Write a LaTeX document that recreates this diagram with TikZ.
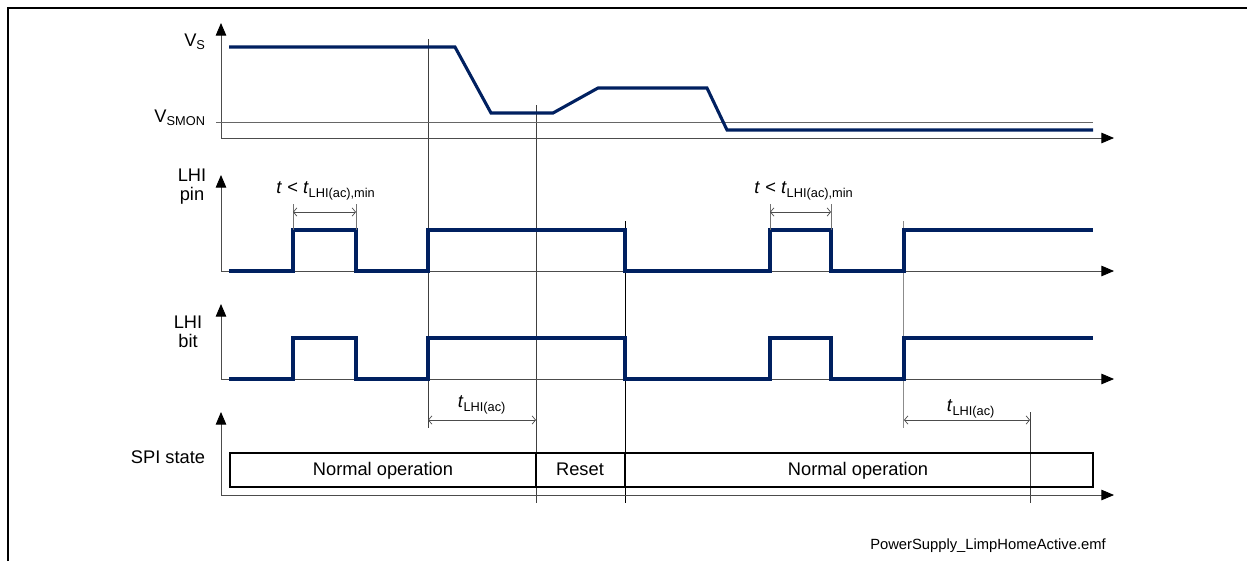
\documentclass[tikz,border=0pt]{standalone}
\usepackage{fontspec}
\setmainfont{Liberation Sans}
\usetikzlibrary{arrows.meta}
\definecolor{sigblue}{RGB}{0,32,96}
\tikzset{
  axis/.style={draw=black!70, line width=0.6pt, {Triangle[length=9pt,width=7.5pt,black]}-{Triangle[length=9pt,width=7.5pt,black]}},
  signal/.style={draw=sigblue, line width=2.2pt},
  guide/.style={draw=black!75, line width=0.5pt},
  dimline/.style={draw=black!70, line width=0.5pt, {Straight Barb[length=2.5pt,width=6pt]}-{Straight Barb[length=2.5pt,width=6pt]}},
  lbl/.style={font=\fontsize{13}{13.5}\selectfont, inner sep=0pt},
  small/.style={font=\fontsize{10.5}{12}\selectfont, inner sep=0pt},
}
\begin{document}
\begin{tikzpicture}[x=0.025cm, y=-0.025cm]
\useasboundingbox (0,0) rectangle (1247,561);
% frame
\draw[line width=1.4pt] (8,561) -- (8,8) -- (1247,8);

% guides
\draw[guide] (428,39) -- (428,428);
\draw[guide] (536,105) -- (536,503);
\draw[guide, draw=black] (625,221) -- (625,503);
\draw[guide, draw=black!45] (903,221) -- (903,428);
\draw[guide] (1030,412) -- (1030,503);

% Vs
\draw[axis] (221,23) -- (221,138) -- (1114,138);
\draw[draw=black!60, line width=0.6pt] (216,122) -- (1093,122);
\draw[signal] (229,47) -- (455,47) -- (491,113) -- (553,113) -- (598,88) -- (707,88) -- (727,130) -- (1093,130);
\node[lbl] (vs) at (195,42) {V\textsubscript{S}};
\node[lbl, anchor=east] (vsmon) at (206,118) {V\textsubscript{SMON}};

% LHI pin
\draw[axis] (221,175) -- (221,271) -- (1114,271);
\draw[signal] (229,271) -- (293,271) -- (293,230) -- (356,230) -- (356,271) -- (428,271) -- (428,230)
  -- (625,230) -- (625,271) -- (770,271) -- (770,230) -- (831,230) -- (831,271) -- (904,271) -- (904,230) -- (1093,230);
\node[lbl, align=center] (pin) at (192,187) {LHI\\pin};
\foreach \a/\b in {293/356, 770/831} {
  \draw[guide, draw=black!55] (\a,204) -- (\a,230) (\b,204) -- (\b,230);
  \draw[dimline] (\a,212) -- (\b,212);
}
\node[lbl] (tmin1) at (326,191) {\textit{t} < \textit{t}\textsubscript{LHI(ac),min}};
\node[lbl] (tmin2) at (804,191) {\textit{t} < \textit{t}\textsubscript{LHI(ac),min}};

% LHI bit
\draw[axis] (221,304) -- (221,379) -- (1114,379);
\draw[signal] (229,379) -- (293,379) -- (293,338) -- (356,338) -- (356,379) -- (428,379) -- (428,338)
  -- (625,338) -- (625,379) -- (770,379) -- (770,338) -- (831,338) -- (831,379) -- (904,379) -- (904,338) -- (1093,338);
\node[lbl, align=center] (bit) at (188,332) {LHI\\bit};

% t_LHI(ac)
\draw[dimline] (428,420) -- (536,420);
\draw[dimline] (904,420) -- (1030,420);
\node[lbl] (tac1) at (482,405) {\textit{t}\textsubscript{LHI(ac)}};
\node[lbl] (tac2) at (971,409) {\textit{t}\textsubscript{LHI(ac)}};

% SPI state
\draw[axis] (221,412) -- (221,495) -- (1114,495);
\node[lbl] (spi) at (168,457) {SPI state};
\draw[line width=0.8pt] (230,453) rectangle (1093,487) (536,453) -- (536,487) (625,453) -- (625,487);
\node[lbl, anchor=base] (norm1) at (383,475) {Normal operation};
\node[lbl, anchor=base] (reset) at (580,475) {Reset};
\node[lbl, anchor=base] (norm2) at (858,475) {Normal operation};

\node[small] (file) at (988,546) {PowerSupply\_LimpHomeActive.emf};
\end{tikzpicture}
\end{document}
